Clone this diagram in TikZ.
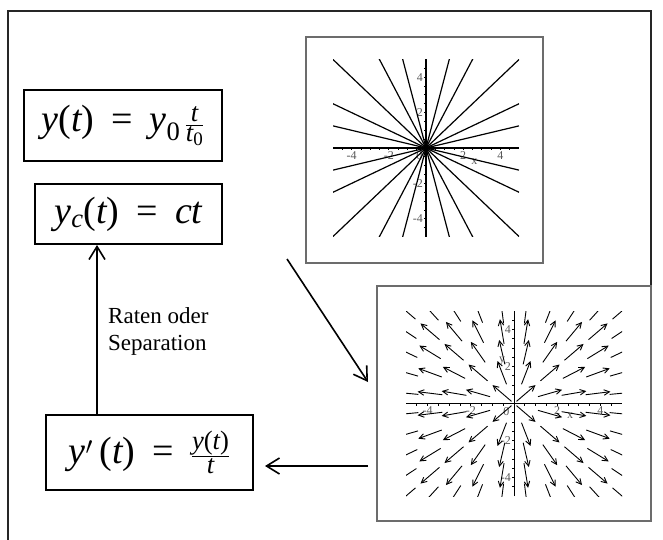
\documentclass[tikz,border=0pt]{standalone}
\usepackage{amsmath}
\usepackage{fontspec}
\setmainfont{Liberation Serif}
\usetikzlibrary{arrows.meta}
\usetikzlibrary{positioning}

\newcommand{\mv}[1]{\text{\itshape #1}}
\newcommand{\eqs}{\hspace{.45em}=\hspace{.45em}}
\newcommand{\fracpart}[2]{\raisebox{#1}{\fontsize{26.6}{28}\selectfont #2}}

\tikzset{
  formula/.style={draw, line width=2pt, inner sep=0pt, font=\fontsize{38}{42}\selectfont},
  plotframe/.style={draw=gray!85!black, line width=1.3pt, fill=white, inner sep=0pt},
  flow/.style={-{Straight Barb[length=13pt,width=16pt]}, line width=1.6pt},
  axisline/.style={line width=0.8pt},
  solline/.style={line width=1.2pt},
  fieldarrow/.style={-{Straight Barb[length=5.5pt,width=5.5pt]}, line width=0.9pt},
  ticklabel/.style={font=\fontsize{12}{12}\selectfont, text=gray!70!black, inner sep=1pt}
}

\begin{document}
\begin{tikzpicture}[x=1pt, y=-1pt]
\useasboundingbox (0,0) rectangle (663,540);

% Outer frame
\draw[line width=2pt, black!85] (8,545) -- (8,11) -- (651,11) -- (651,290);

% Formulas on the left
\node[formula, minimum width=198pt, minimum height=71pt] (sol) at (123,125.5)
  {\mv{y}(\mv{t})\eqs\mv{y}$_{\text{0}}\,\frac{\mv{t}}{\mv{t}_{\text{0}}}$};
\node[formula, minimum width=187pt, minimum height=60pt] (solc) at (128.5,214)
  {\mv{y}$_{\mv{c}}$(\mv{t})\eqs\mv{ct}};
\node[formula, minimum width=207pt, minimum height=75pt] (ode) at (149.5,452.5)
  {\mv{y}$'$\,(\mv{t})\eqs$\frac{\fracpart{1.5pt}{\itshape y\upshape(\itshape t\upshape)}}{\fracpart{-1.5pt}{\itshape t}}$};

% Step from the ODE to the solutions
\draw[flow] (ode.north -| 97,0) -- (solc.south -| 97,0);
\node[anchor=west, align=left, font=\fontsize{23}{27}\selectfont, inner sep=0pt] (howto) at (108,331)
  {Raten oder\\Separation};

% Solution curves y = c t
\node[plotframe, minimum width=237pt, minimum height=226pt] (solplot) at (424.5,150) {};
\begin{scope}[shift={(426,148)}, x=18.6pt, y=17.7pt]
  \draw[axisline] (-5,0) -- (5,0);
  \draw[axisline] (0,-5) -- (0,5);
  \foreach \tk in {-4.5,-4,...,4.5} {
    \draw[axisline] (\tk,0) -- ++(0,-2.5pt);
    \draw[axisline] (0,\tk) -- ++(-2.5pt,0);
  }
  \foreach \tk in {-4,-2,2,4} {
    \node[ticklabel, below=2pt] at (\tk,0) {\tk};
    \node[ticklabel, left=2pt] at (0,\tk) {\tk};
  }
  \node[ticklabel] at (2.6,-0.75) {x};
  \node[ticklabel] at (-0.35,-0.45) {0};
  \begin{scope}
    \clip (-5,-5) rectangle (5,5);
    \foreach \m in {-4,-2,-1,-0.5,-0.25,0,0.25,0.5,1,2,4}
      \draw[solline] (-5,{-5*\m}) -- (5,{5*\m});
    \draw[solline] (0,-5) -- (0,5);
  \end{scope}
\end{scope}

% Direction field of y' = y/t
\node[plotframe, minimum width=274pt, minimum height=235pt] (fieldplot) at (514,403.5) {};
\begin{scope}[shift={(514,403.5)}, x=21.6pt, y=18.5pt]
  \draw[axisline] (-5,0) -- (5,0);
  \draw[axisline] (0,-5) -- (0,5);
  \foreach \tk in {-4.5,-4,...,4.5} {
    \draw[axisline] (\tk,0) -- ++(0,-2.5pt);
    \draw[axisline] (0,\tk) -- ++(-2.5pt,0);
  }
  \foreach \tk in {-4,-2,2,4} {
    \node[ticklabel, below=2pt] at (\tk,0) {\tk};
    \node[ticklabel, left=2pt] at (0,\tk) {\tk};
  }
  \node[ticklabel] at (2.6,-0.65) {x};
  \node[ticklabel] at (-0.55,2.3) {y};
  \node[ticklabel] at (-0.35,-0.45) {0};
  \begin{scope}
    \clip (-5,-5) rectangle (5,5);
    \foreach \i in {0,...,9} {
      \foreach \j in {0,...,9} {
        \pgfmathsetmacro\fx{-5+\i*10/9}
        \pgfmathsetmacro\fy{-5+\j*10/9}
        \pgfmathsetmacro\fr{veclen(\fx*21.6,\fy*18.5)}
        \pgfmathsetmacro\ax{\fx-12.5*\fx/\fr}
        \pgfmathsetmacro\ay{\fy-12.5*\fy/\fr}
        \pgfmathsetmacro\bx{\fx+12.5*\fx/\fr}
        \pgfmathsetmacro\by{\fy+12.5*\fy/\fr}
        \draw[fieldarrow] (\ax,\ay) -- (\bx,\by);
      }
    }
  \end{scope}
\end{scope}

% Connectors between the pictures
\coordinate (leave) at (287,259);
\coordinate (enter) at (368,382);
\coordinate (back) at (368,466);
\draw[flow] (leave) -- (enter);
\draw[flow, shorten >=11pt] (back) -- (ode.east |- back);

\end{tikzpicture}
\end{document}
